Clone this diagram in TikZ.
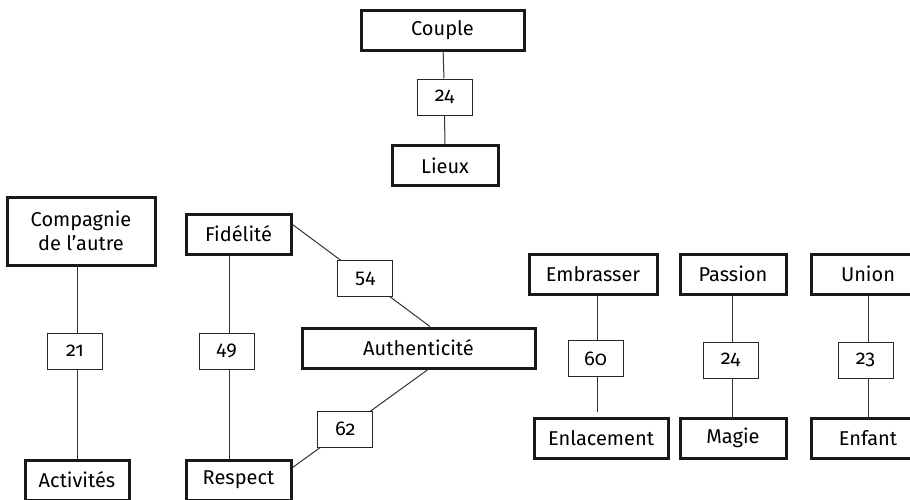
\documentclass[tikz,border=0pt]{standalone}
\usepackage{fontspec}
\setmainfont{Fira Sans}
\newfontfamily\oldnum{Fira Sans}[Numbers=OldStyle]

\begin{document}
\begin{tikzpicture}[x=0.5pt,y=-0.5pt,
    bigbox/.style={draw=black!90,line width=1.5pt,minimum height=20pt,inner sep=0pt,
      font=\fontsize{10}{12}\selectfont},
    numbox/.style={draw=black!85,fill=white,line width=0.5pt,minimum width=27.5pt,
      minimum height=18pt,inner sep=0pt,font=\fontsize{10}{12}\selectfont},
    link/.style={line width=0.5pt,draw=black!80}]
			\clip (0,0) rectangle (910,499);

			% Couple
			\node[bigbox,minimum width=81.5pt] (couple) at (442.5,30) {Couple};
			\node[numbox] (c24a) at (444.5,97) {\oldnum 24};
			\node[bigbox,minimum width=53pt] (lieux) at (445,165.5) {Lieux};
			\draw[link] (couple) -- (c24a) -- (lieux);

			% Compagnie de l'autre
			\node[bigbox,minimum width=74pt,minimum height=34pt,align=center] (comp) at (81,231) {Compagnie\\de l’autre};
			\node[numbox] (c21) at (75,351) {\oldnum 21};
			\node[bigbox,minimum width=52pt] (activ) at (77,480) {Activités};
			\draw[link] (comp.south -| activ) -- (c21.north -| activ);
			\draw[link] (c21.south -| activ) -- (activ);

			% Fidelite, Authenticite, Respect
			\node[bigbox,minimum width=52.5pt] (fid) at (238.5,234) {Fidélité};
			\node[numbox] (c49) at (226.5,351) {49};
			\node[bigbox,minimum width=52.5pt] (resp) at (238.5,480) {Respect};
			\node[bigbox,minimum width=116.5pt] (auth) at (418.5,348) {Authenticité};
			\draw[link] (fid.south -| 229,0) -- (c49.north -| 229,0);
			\draw[link] (c49.south -| 229,0) -- (resp.north -| 229,0);
			\draw[link] (fid.10) -- node[numbox,pos=0.53] (c54) {54} ([xshift=5.75pt]auth.north);
			\draw[link] ([xshift=4.75pt]auth.south) -- node[numbox,pos=0.61] (c62) {\oldnum 62} (resp.13);

			% Embrasser
			\node[bigbox,minimum width=64pt] (emb) at (593,274) {Embrasser};
			\node[numbox] (c60) at (595.5,358.5) {\oldnum 60};
			\node[bigbox,minimum width=67pt] (enl) at (601,438) {Enlacement};
			\draw[link] (emb.south -| 597,0) -- (c60.north -| 597,0);
			\draw[link,shorten >=2.5pt] (c60.south -| 597,0) -- (enl.north -| 597,0);

			% Passion
			\node[bigbox,minimum width=53pt] (pass) at (733,274) {Passion};
			\node[numbox] (c24b) at (730.5,360) {\oldnum 24};
			\node[bigbox,minimum width=53pt] (magie) at (733,438) {Magie};
			\draw[link] (pass.south -| 732,0) -- (c24b.north -| 732,0);
			\draw[link] (c24b.south -| 732,0) -- (magie.north -| 732,0);

			% Union
			\node[bigbox,minimum width=57pt] (union) at (868,274) {Union};
			\node[numbox] (c23) at (865.5,360) {\oldnum 23};
			\node[bigbox,minimum width=57pt] (enf) at (868,438) {Enfant};
			\draw[link] (union) -- (c23.north -| union);
			\draw[link] (c23.south -| enf) -- (enf);
		\end{tikzpicture}
\end{document}
